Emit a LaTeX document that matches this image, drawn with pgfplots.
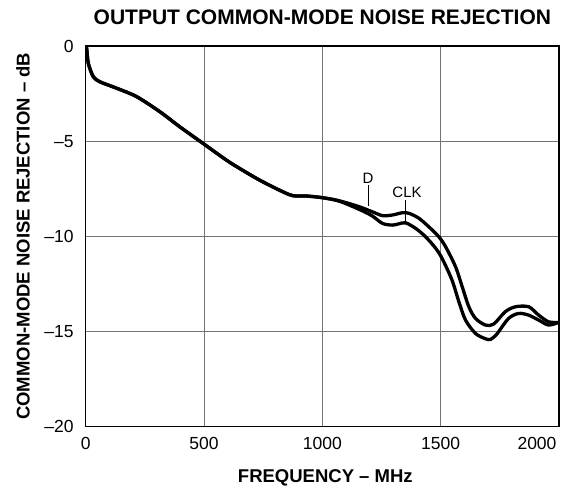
\documentclass[border=0pt]{standalone}
\usepackage{fontspec}
\setmainfont{Liberation Sans}
\usepackage{pgfplots}
\pgfplotsset{compat=1.18}
\begin{document}
\begin{tikzpicture}
\begin{axis}[
  name=ax,
  scale only axis,
  width=473.3pt, height=380.7pt,
  xmin=0, xmax=2000, ymin=-20, ymax=0,
  xtick={0,500,1000,1500,2000},
  xticklabels={0,500,1000,1500,\hspace*{-40pt}2000\hspace*{4pt}},
  ytick={-20,-15,-10,-5,0},
  yticklabels={–20,–15,–10,–5,0},
  major tick length=0pt,
  grid=major,
  grid style={black!55, line width=0.9pt},
  axis line style={black, line width=1.6pt},
  tick label style={font=\fontsize{17.5}{20}\selectfont, inner sep=0pt},
  xticklabel style={anchor=base, yshift=-23.3pt},
  yticklabel style={anchor=east, xshift=-12pt},
]
\addplot[black, line width=3.3pt, smooth] coordinates {
(0,0) (4,-0.12) (11,-0.91) (32,-1.61) (60,-1.88) (131,-2.22) (215,-2.66)
(313,-3.45) (397,-4.24) (495,-5.11) (594,-5.99) (650,-6.43) (734,-7.04)
(818,-7.57) (874,-7.86) (931,-7.88) (1001,-7.97) (1071,-8.13)
(1155,-8.44) (1211,-8.71) (1254,-8.91) (1296,-8.88) (1338,-8.76) (1366,-8.79)
(1408,-9.05) (1450,-9.50) (1492,-10.02) (1521,-10.55) (1563,-11.60)
(1591,-12.65) (1619,-13.70) (1647,-14.31) (1689,-14.66) (1724,-14.61)
(1773,-13.96) (1816,-13.70) (1872,-13.70) (1914,-14.14) (1956,-14.49) (1998,-14.52)
};
\addplot[black, line width=3.3pt, smooth] coordinates {
(0,0) (4,-0.12) (11,-0.91) (32,-1.61) (60,-1.88) (131,-2.22) (215,-2.66)
(313,-3.45) (397,-4.24) (495,-5.11) (594,-5.99) (650,-6.43) (734,-7.04)
(818,-7.57) (874,-7.86) (931,-7.88) (1001,-7.97) (1071,-8.15)
(1155,-8.58) (1211,-8.93) (1254,-9.32) (1296,-9.41) (1324,-9.34) (1352,-9.29)
(1394,-9.58) (1436,-10.02) (1479,-10.63) (1506,-11.16) (1548,-12.30)
(1577,-13.44) (1605,-14.40) (1647,-15.10) (1689,-15.38) (1710,-15.42) (1731,-15.22)
(1745,-15.01) (1787,-14.31) (1829,-14.05) (1872,-14.14) (1914,-14.40) (1956,-14.66) (1998,-14.52)
};
\draw[black, line width=0.8pt] (axis cs:1193,-7.30) -- (axis cs:1193,-8.40);
\draw[black, line width=0.8pt] (axis cs:1350,-8.09) -- (axis cs:1350,-9.25);
\node[font=\fontsize{15}{17}\selectfont, anchor=base, inner sep=0pt] at (axis cs:1193,-7.25) {D};
\node[font=\fontsize{15}{17}\selectfont, anchor=base, inner sep=0pt] at (axis cs:1358,-7.98) {CLK};
\end{axis}
\node[anchor=base, inner sep=0pt, font=\fontsize{21}{24}\selectfont\bfseries] at ([yshift=21pt]ax.north) {OUTPUT COMMON-MODE NOISE REJECTION};
\node[anchor=base, inner sep=0pt, font=\fontsize{18.5}{21}\selectfont\bfseries] at ([yshift=-56.3pt, xshift=3pt]ax.south) {FREQUENCY – MHz};
\node[anchor=base, rotate=90, inner sep=0pt, font=\fontsize{18.5}{21}\selectfont\bfseries] at ([xshift=-56pt]ax.west) {COMMON-MODE NOISE REJECTION – dB};
\pgfresetboundingbox
\path ([xshift=-85.7pt,yshift=-64.3pt]ax.south west) rectangle ([xshift=16pt,yshift=46pt]ax.north east);
\end{tikzpicture}
\end{document}
